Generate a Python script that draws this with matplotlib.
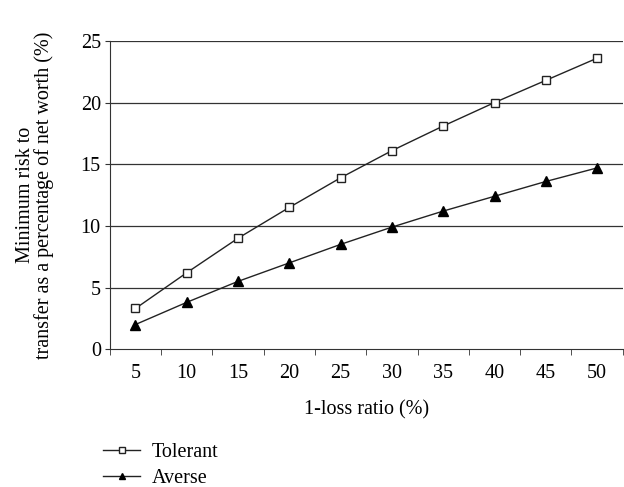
import matplotlib.pyplot as plt
import numpy as np

plt.rcParams['font.family'] = ['Liberation Serif', 'DejaVu Serif']

categories = ['5', '10', '15', '20', '25', '30', '35', '40', '45', '50']
tolerant = [3.3, 6.2, 9.0, 11.5, 13.9, 16.1, 18.1, 20.0, 21.8, 23.6]
averse = [2.0, 3.8, 5.5, 7.0, 8.5, 9.9, 11.2, 12.4, 13.6, 14.7]

fs = 14.5
fig = plt.figure(figsize=(6.24, 4.87), dpi=100)
ax = fig.add_axes([0.176, 0.283, 0.822, 0.633])

x = np.arange(len(categories))
ax.plot(x, tolerant, color='#222222', lw=1.0, marker='s', ms=6,
        mfc='white', mec='#222222', mew=1.0, label='Tolerant')
ax.plot(x, averse, color='#222222', lw=1.0, marker='^', ms=6.5,
        mfc='black', mec='black', label='Averse')

ax.set_xlim(-0.5, len(categories) - 0.5)
ax.set_ylim(0, 25)
ax.set_yticks([0, 5, 10, 15, 20, 25])
ax.set_xticks(x)
ax.set_xticklabels(categories, fontsize=fs)
ax.set_xticks(np.arange(-0.5, len(categories), 1), minor=True)
ax.tick_params(axis='x', which='major', length=0, pad=11)
ax.tick_params(axis='x', which='minor', length=4, direction='out', color='#333333')
ax.tick_params(axis='y', length=3.5, direction='out', labelsize=fs, pad=3,
               color='#333333')

for v in [5, 10, 15, 20, 25]:
    ax.axhline(v, color='#333333', lw=0.9, zorder=0)

for s in ['top', 'right']:
    ax.spines[s].set_visible(False)
ax.spines['left'].set_color('#333333')
ax.spines['bottom'].set_color('#333333')

ax.set_xlabel('1-loss ratio (%)', fontsize=fs, labelpad=12)
ax.set_ylabel('Minimum risk to\ntransfer as a percentage of net worth (%)',
              fontsize=fs, labelpad=19, linespacing=0.95)

fig.legend(loc='upper left', bbox_to_anchor=(103 / 624, 1 - 443 / 487),
           frameon=False, fontsize=fs, handlelength=1.85, handletextpad=0.55,
           labelspacing=0.36, markerscale=0.65, borderpad=0, borderaxespad=0)

fig.savefig('out.png', dpi=100)
